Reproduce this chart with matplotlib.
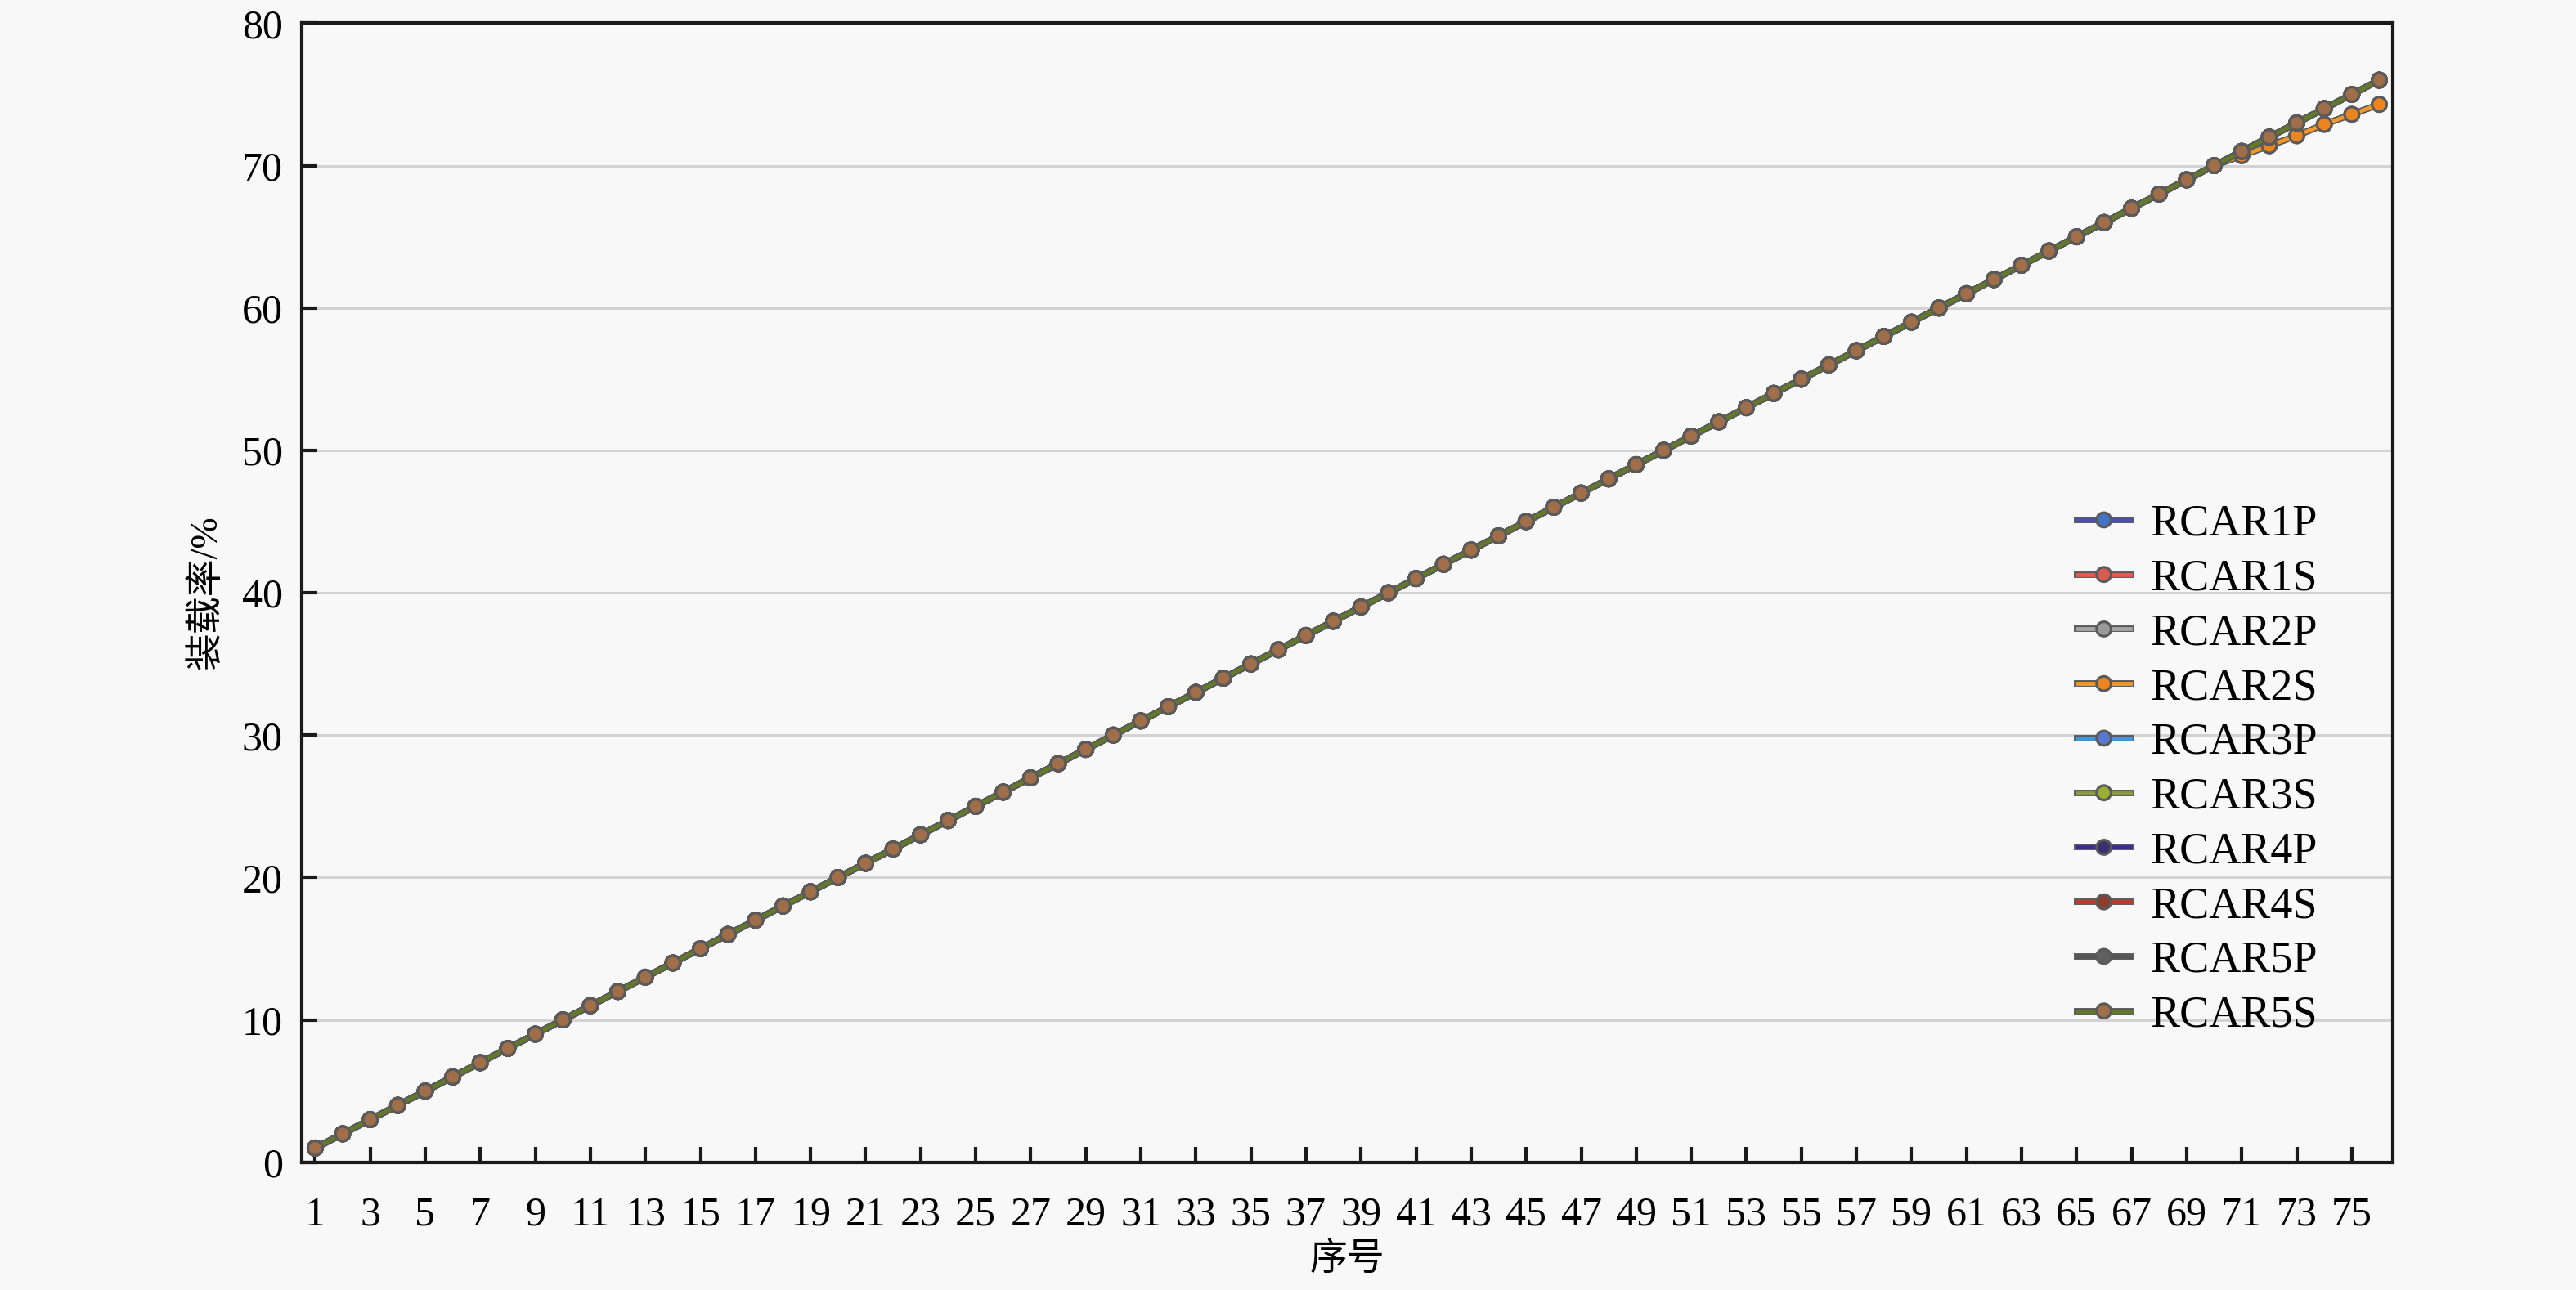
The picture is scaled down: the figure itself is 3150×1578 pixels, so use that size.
import matplotlib
matplotlib.use("Agg")
import matplotlib.pyplot as plt
import matplotlib.patheffects as pe

# ---------------- data ----------------
series_names = ["RCAR1P", "RCAR1S", "RCAR2P", "RCAR2S", "RCAR3P",
                "RCAR3S", "RCAR4P", "RCAR4S", "RCAR5P", "RCAR5S"]

seq = [1, 2, 3, 4, 5, 6, 7, 8, 9, 10, 11, 12, 13, 14, 15, 16, 17, 18, 19, 20,
       21, 22, 23, 24, 25, 26, 27, 28, 29, 30, 31, 32, 33, 34, 35, 36, 37, 38, 39, 40,
       41, 42, 43, 44, 45, 46, 47, 48, 49, 50, 51, 52, 53, 54, 55, 56, 57, 58, 59, 60,
       61, 62, 63, 64, 65, 66, 67, 68, 69, 70, 71, 72, 73, 74, 75, 76]

# loading rate of the "P" series and most "S" series (%)
rate_main = [1, 2, 3, 4, 5, 6, 7, 8, 9, 10, 11, 12, 13, 14, 15, 16, 17, 18, 19, 20,
             21, 22, 23, 24, 25, 26, 27, 28, 29, 30, 31, 32, 33, 34, 35, 36, 37, 38, 39, 40,
             41, 42, 43, 44, 45, 46, 47, 48, 49, 50, 51, 52, 53, 54, 55, 56, 57, 58, 59, 60,
             61, 62, 63, 64, 65, 66, 67, 68, 69, 70, 71, 72, 73, 74, 75, 76]

# series that bend down at the end (RCAR1S, RCAR2S)
rate_low = [1, 2, 3, 4, 5, 6, 7, 8, 9, 10, 11, 12, 13, 14, 15, 16, 17, 18, 19, 20,
            21, 22, 23, 24, 25, 26, 27, 28, 29, 30, 31, 32, 33, 34, 35, 36, 37, 38, 39, 40,
            41, 42, 43, 44, 45, 46, 47, 48, 49, 50, 51, 52, 53, 54, 55, 56, 57, 58, 59, 60,
            61, 62, 63, 64, 65, 66, 67, 68, 69, 70, 70.7, 71.4, 72.1, 72.9, 73.6, 74.3]

series_values = {
    "RCAR1P": rate_main, "RCAR1S": rate_low, "RCAR2P": rate_main, "RCAR2S": rate_low,
    "RCAR3P": rate_main, "RCAR3S": rate_main, "RCAR4P": rate_main, "RCAR4S": rate_main,
    "RCAR5P": rate_main, "RCAR5S": rate_main,
}

x_tick_labels = [str(v) for v in seq[::2]]
y_ticks = [0, 10, 20, 30, 40, 50, 60, 70, 80]

line_colors = ["#4b4fb0", "#e8584f", "#a5a5a5", "#f0982a", "#3c9be0",
               "#8a9a40", "#3a2d9a", "#c8382a", "#555555", "#62792c"]
marker_colors = ["#4472c4", "#d95a50", "#9a9a9a", "#ec8420", "#5b78d0",
                 "#9bb030", "#3a3070", "#8a4030", "#606060", "#a06e48"]

# ---------------- figure ----------------
bg = "#f8f8f8"
fig = plt.figure(figsize=(10.5, 5.26), dpi=300, facecolor=bg)
ax = fig.add_axes([0.117, 0.099, 0.812, 0.883], facecolor=bg)

serif = ["Liberation Serif", "Noto Sans CJK SC", "DejaVu Sans"]

for name, lc, mc in zip(series_names, line_colors, marker_colors):
    ax.plot(seq, series_values[name], color=lc, lw=1.15, marker="o", ms=3.1,
            markerfacecolor=mc, markeredgecolor=mc, markeredgewidth=0.4,
            label=name,
            path_effects=[pe.Stroke(linewidth=1.9, foreground="#5a5a5a"), pe.Normal()])

ax.set_xlim(0.5, 76.5)
ax.set_ylim(0, 80)
ax.set_xticks(seq[::2])
ax.set_xticklabels(x_tick_labels)
ax.set_yticks(y_ticks)

ax.yaxis.grid(True, color="#d2d2d2", lw=0.7)
ax.set_axisbelow(True)

for s in ax.spines.values():
    s.set_color("#1a1a1a")
    s.set_linewidth(1.0)

ax.tick_params(axis="both", direction="in", length=4.5, width=1.0, color="#1a1a1a",
               labelsize=12)
ax.tick_params(axis="x", pad=10)
ax.tick_params(axis="y", pad=5.5)
for lab in ax.get_xticklabels() + ax.get_yticklabels():
    lab.set_fontfamily(serif)

ax.set_xlabel("序号", fontsize=11, family=serif)
ax.set_ylabel("装载率/%", fontsize=11, family=serif)
ax.xaxis.set_label_coords(0.5, -0.071)
ax.yaxis.set_label_coords(-0.037, 0.5)

leg = ax.legend(loc="upper left", bbox_to_anchor=(0.849, 0.578), frameon=False,
                prop={"family": serif, "size": 13}, labelspacing=0.30,
                handlelength=1.2, handletextpad=0.45, borderpad=0, borderaxespad=0)

fig.savefig("out.png", dpi=300, facecolor=bg)
